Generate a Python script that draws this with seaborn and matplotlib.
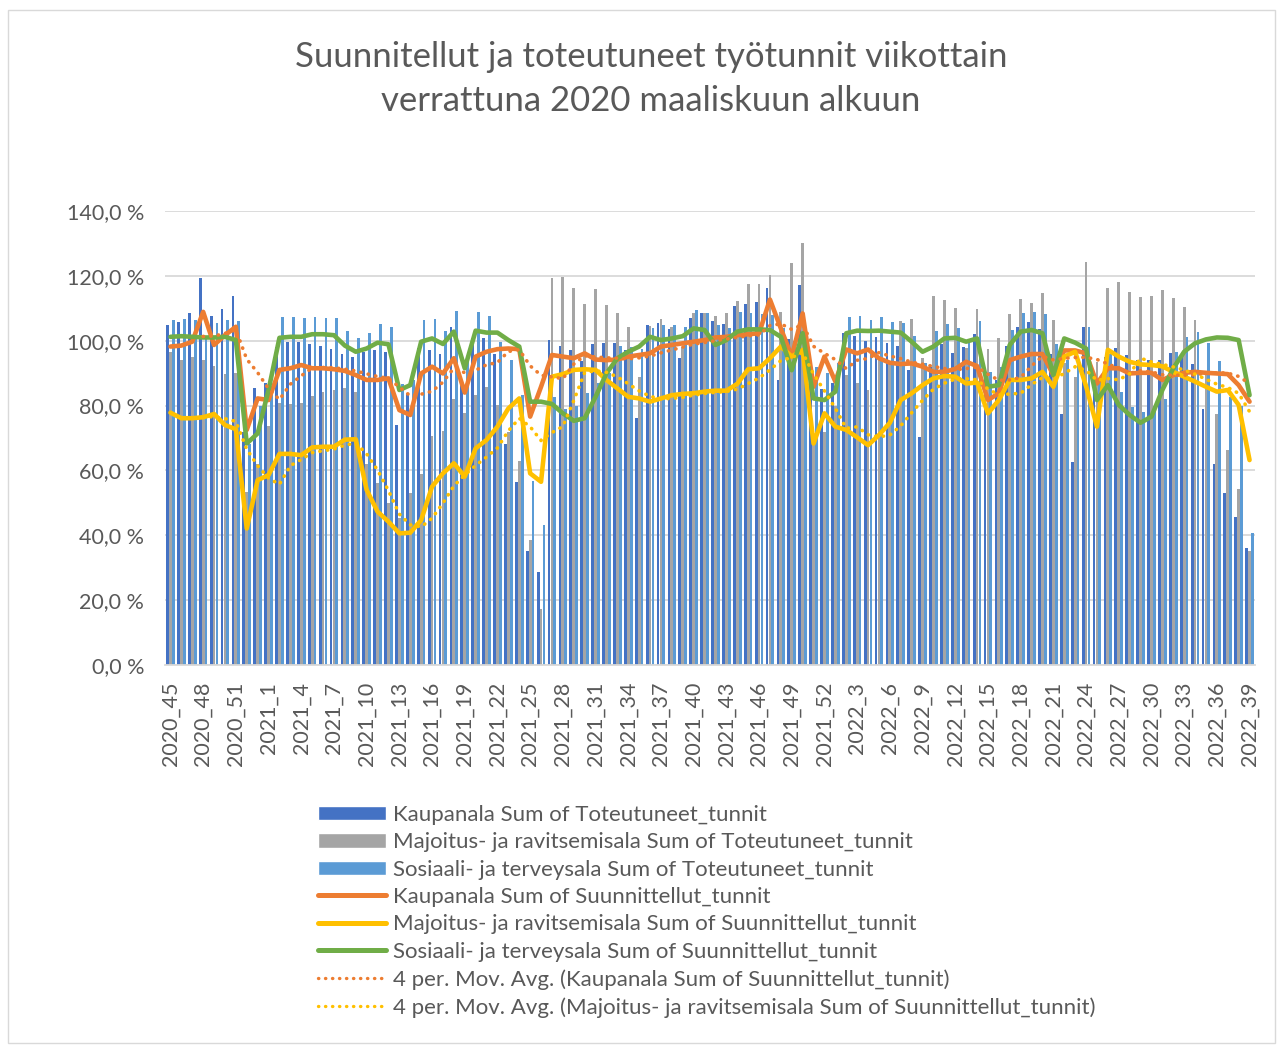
import numpy as np
import pandas as pd
import matplotlib
matplotlib.use("Agg")
import matplotlib.pyplot as plt
import seaborn as sns
from matplotlib.patches import Patch, Rectangle
from matplotlib.lines import Line2D
from matplotlib.ticker import FuncFormatter

# ---------------- data ----------------
weeks = ([f"2020_{w}" for w in range(45, 54)] +
         [f"2021_{w}" for w in range(1, 53)] +
         [f"2022_{w}" for w in range(1, 40)])

kaup_tot = [105.0, 105.8, 108.4, 119.2, 107.5, 109.9, 113.8, 72.0, 85.3, 86.9,
            98.0, 99.7, 99.5, 98.9, 98.5, 97.4, 95.9, 94.9, 96.6, 97.0,
            96.6, 74.0, 83.8, 97.9, 97.0, 96.0, 104.3, 87.0, 100.7, 100.7,
            96.0, 68.1, 56.5, 35.3, 28.8, 100.2, 98.5, 97.0, 93.7, 98.9,
            99.4, 99.2, 97.0, 76.1, 105.0, 105.5, 103.6, 94.6, 107.1, 108.7,
            106.2, 105.1, 110.8, 111.3, 111.8, 116.4, 87.9, 100.5, 117.2, 88.0,
            85.0, 87.0, 102.5, 101.4, 100.0, 101.2, 99.4, 98.5, 91.0, 70.4,
            92.0, 99.0, 96.1, 98.0, 102.0, 88.0, 87.9, 98.5, 104.1, 105.7,
            103.6, 96.0, 77.4, 62.5, 104.3, 86.9, 95.0, 97.6, 95.5, 94.0,
            94.2, 94.0, 96.3, 95.0, 92.8, 79.0, 62.1, 53.0, 45.7, 36.2]

majo_tot = [96.6, 94.2, 94.9, 94.0, 92.3, 89.8, 90.0, 53.4, 62.0, 73.7,
            80.9, 80.5, 80.9, 83.0, 84.3, 84.8, 85.5, 84.3, 62.0, 56.0,
            50.0, 45.4, 53.1, 59.0, 70.6, 72.3, 81.9, 77.8, 83.4, 85.8,
            80.3, 72.0, 62.9, 38.5, 17.2, 119.4, 119.8, 116.3, 111.3, 116.1,
            111.0, 108.7, 104.3, 88.9, 104.5, 106.7, 104.3, 98.2, 108.4, 108.4,
            107.7, 108.4, 112.2, 117.5, 117.5, 120.4, 109.0, 124.0, 130.2, 70.0,
            72.0, 80.0, 89.4, 87.0, 84.8, 95.0, 93.0, 106.2, 106.6, 94.8,
            113.8, 112.7, 110.0, 97.6, 109.8, 97.4, 100.9, 108.1, 112.8, 111.7,
            114.6, 106.4, 93.0, 88.7, 124.4, 93.5, 116.4, 118.2, 115.1, 113.6,
            113.8, 115.6, 113.1, 110.5, 106.4, 90.0, 77.3, 66.3, 54.2, 35.3]

sote_tot = [106.4, 106.6, 106.4, 101.0, 105.5, 106.4, 106.1, 68.0, 80.0, 86.0,
            107.2, 107.4, 107.0, 107.2, 107.1, 106.9, 103.1, 100.9, 102.5, 105.1,
            104.1, 86.8, 88.0, 106.4, 106.6, 102.9, 109.1, 95.0, 108.9, 107.6,
            99.7, 94.0, 83.4, 56.8, 43.2, 82.7, 78.8, 80.0, 84.0, 87.0,
            90.0, 98.4, 98.2, 97.3, 104.0, 104.8, 105.0, 104.1, 109.5, 108.4,
            105.0, 104.0, 108.9, 108.6, 108.2, 107.8, 104.0, 100.0, 100.0, 92.0,
            90.0, 93.0, 107.4, 107.6, 106.4, 107.2, 105.9, 105.5, 101.4, 93.0,
            103.1, 105.1, 103.8, 100.0, 106.1, 90.4, 92.0, 103.3, 108.4, 108.9,
            108.1, 99.0, 94.0, 94.0, 104.3, 88.0, 96.0, 84.2, 79.7, 78.1,
            80.0, 82.0, 96.4, 101.0, 102.6, 99.2, 93.7, 82.7, 80.0, 40.6]

kaup_plan = [98.2, 98.5, 99.7, 108.9, 98.7, 101.7, 104.3, 72.5, 82.2, 81.7,
             91.0, 91.5, 92.5, 91.5, 91.5, 91.2, 90.7, 89.4, 87.9, 87.9,
             88.4, 78.6, 77.1, 89.9, 92.0, 89.9, 94.6, 84.0, 95.1, 96.6,
             97.4, 97.6, 97.4, 76.6, 85.8, 95.6, 95.1, 94.6, 96.1, 94.2,
             94.0, 94.2, 95.1, 95.6, 96.1, 98.2, 98.7, 99.2, 99.7, 100.2,
             101.0, 101.2, 101.7, 102.0, 102.3, 112.7, 103.8, 95.1, 108.4, 85.8,
             95.1, 87.4, 97.3, 96.1, 97.3, 94.6, 93.2, 92.8, 93.0, 92.0,
             90.4, 90.4, 91.3, 93.5, 92.2, 81.7, 83.8, 94.0, 95.1, 95.9,
             95.9, 89.4, 97.0, 97.0, 96.1, 86.8, 91.5, 91.5, 89.9, 90.1,
             90.1, 87.9, 89.4, 90.1, 90.4, 90.1, 89.9, 89.7, 86.3, 81.2]

majo_plan = [77.8, 76.1, 76.1, 76.4, 77.4, 74.0, 72.7, 42.1, 57.0, 58.6,
             65.1, 65.1, 64.7, 67.1, 67.3, 67.3, 69.5, 69.6, 54.0, 47.3,
             44.2, 40.6, 40.8, 44.7, 55.0, 59.1, 62.2, 58.1, 66.8, 69.4,
             73.5, 79.1, 82.2, 59.1, 56.5, 88.9, 89.7, 91.0, 91.2, 91.0,
             87.9, 85.3, 82.7, 82.2, 81.2, 82.2, 83.2, 83.6, 83.8, 84.3,
             84.6, 84.6, 86.7, 91.2, 91.5, 94.6, 98.2, 95.1, 97.2, 68.3,
             77.6, 73.5, 72.5, 70.2, 67.8, 70.9, 74.7, 81.7, 83.8, 86.3,
             88.4, 89.1, 88.9, 86.8, 87.1, 77.6, 81.7, 87.9, 87.9, 88.4,
             90.4, 85.8, 95.1, 96.6, 86.0, 73.5, 97.2, 95.1, 93.5, 92.7,
             92.5, 92.1, 90.4, 88.9, 87.4, 85.8, 84.3, 84.8, 80.2, 63.2]

sote_plan = [101.2, 101.4, 101.2, 101.0, 101.0, 101.2, 100.2, 68.3, 71.4, 84.8,
             100.9, 101.2, 101.2, 102.0, 102.0, 101.7, 98.5, 96.6, 97.6, 99.4,
             98.9, 84.8, 86.3, 99.7, 100.7, 99.0, 102.8, 91.5, 103.1, 102.5,
             102.5, 100.2, 98.2, 81.2, 81.2, 80.5, 77.6, 75.3, 76.1, 82.7,
             89.9, 94.6, 96.6, 98.2, 101.2, 100.2, 100.7, 101.4, 103.8, 103.3,
             98.7, 100.2, 102.8, 103.5, 103.5, 103.3, 101.2, 90.9, 102.3, 82.2,
             81.7, 84.3, 102.3, 103.1, 103.0, 103.1, 102.8, 102.5, 99.7, 96.6,
             98.2, 100.7, 100.9, 99.7, 100.7, 85.8, 86.3, 98.7, 102.8, 103.3,
             102.3, 89.4, 100.7, 99.4, 97.6, 81.7, 86.3, 80.2, 77.1, 74.7,
             76.6, 84.8, 91.5, 96.6, 99.2, 100.4, 101.0, 100.9, 100.2, 83.2]

bar_labels = ["Kaupanala Sum of Toteutuneet_tunnit",
              "Majoitus- ja ravitsemisala Sum of Toteutuneet_tunnit",
              "Sosiaali- ja terveysala Sum of Toteutuneet_tunnit"]
line_labels = ["Kaupanala Sum of Suunnittellut_tunnit",
               "Majoitus- ja ravitsemisala Sum of Suunnittellut_tunnit",
               "Sosiaali- ja terveysala Sum of Suunnittellut_tunnit"]
ma_labels = ["4 per. Mov. Avg. (Kaupanala Sum of Suunnittellut_tunnit)",
             "4 per. Mov. Avg. (Majoitus- ja ravitsemisala Sum of Suunnittellut_tunnit)"]

title = "Suunnitellut ja toteutuneet työtunnit viikottain\nverrattuna 2020 maaliskuun alkuun"

# ---------------- styling ----------------
C_DARK, C_GREY, C_LIGHT = "#4472C4", "#A5A5A5", "#5B9BD5"
C_OR, C_YEL, C_GRN = "#ED7D31", "#FFC000", "#70AD47"
TXT = "#595959"
DOTS = (0, (0.1, 2.0))

sns.set_theme(style="white")
plt.rcParams["font.family"] = ["Lato", "DejaVu Sans"]

W, H = 1281, 1047
fig = plt.figure(figsize=(W / 100, H / 100), dpi=100)
ax = fig.add_axes([165 / W, 1 - 665 / H, (1255 - 165) / W, (665 - 211) / H])

n = len(weeks)
pos = np.arange(n)
df = pd.DataFrame({
    "pos": np.concatenate([pos, pos, pos]),
    "series": np.repeat(bar_labels, n),
    "value": np.concatenate([kaup_tot, majo_tot, sote_tot]),
})
sns.barplot(data=df, x="pos", y="value", hue="series", hue_order=bar_labels,
            palette=[C_DARK, C_GREY, C_LIGHT], width=0.8, gap=0.02,
            saturation=1, legend=False, ax=ax, zorder=2, linewidth=0)

for vals, col in [(kaup_plan, C_OR), (majo_plan, C_YEL), (sote_plan, C_GRN)]:
    sns.lineplot(x=pos, y=vals, color=col, lw=3.3, ax=ax, zorder=4,
                 solid_capstyle="round", solid_joinstyle="round")

for vals, col in [(kaup_plan, C_OR), (majo_plan, C_YEL)]:
    ma = pd.Series(vals).rolling(4).mean()
    sns.lineplot(x=pos, y=ma, color=col, lw=2.6, ax=ax, zorder=5,
                 linestyle=DOTS, dash_capstyle="round")

ax.set_xlim(-0.5, n - 0.5)
ax.set_ylim(0, 140)
ax.set_yticks(np.arange(0, 141, 20))
ax.yaxis.set_major_formatter(FuncFormatter(lambda v, p: f"{v:.1f}".replace(".", ",") + " %"))
ax.set_xticks(pos[::3])
ax.set_xticklabels(weeks[::3], rotation=90)
ax.set_xlabel("")
ax.set_ylabel("")
ax.yaxis.grid(True, color="#D9D9D9", lw=1.3, zorder=0)
ax.xaxis.grid(False)
ax.set_axisbelow(True)
for s in ["top", "right", "left"]:
    ax.spines[s].set_visible(False)
ax.spines["bottom"].set_color("#D9D9D9")
ax.spines["bottom"].set_linewidth(1.3)
ax.tick_params(axis="y", length=0, pad=15, labelsize=15.5, labelcolor=TXT)
ax.tick_params(axis="x", length=0, pad=12, labelsize=15.5, labelcolor=TXT)

fig.text(651 / W, 1 - 79 / H, title, ha="center", va="center", fontsize=25,
         color=TXT, linespacing=1.45)

handles = [Patch(facecolor=C_DARK), Patch(facecolor=C_GREY), Patch(facecolor=C_LIGHT),
           Line2D([], [], color=C_OR, lw=3.6, solid_capstyle="round"),
           Line2D([], [], color=C_YEL, lw=3.6, solid_capstyle="round"),
           Line2D([], [], color=C_GRN, lw=3.6, solid_capstyle="round"),
           Line2D([], [], color=C_OR, lw=2.4, linestyle=DOTS, dash_capstyle="round"),
           Line2D([], [], color=C_YEL, lw=2.4, linestyle=DOTS, dash_capstyle="round")]
labels = bar_labels + line_labels + ma_labels
leg = fig.legend(handles, labels, loc="upper left", bbox_to_anchor=(318 / W, 1 - 805 / H),
                 frameon=False, fontsize=16, handlelength=3.06, handleheight=0.63,
                 handletextpad=0.3, labelspacing=0.33, borderpad=0, borderaxespad=0)
for t in leg.get_texts():
    t.set_color(TXT)

fig.patches.append(Rectangle((8 / W, 1 - 1043 / H), (1275 - 8) / W, (1043 - 10) / H,
                             transform=fig.transFigure, fill=False, edgecolor="#D9D9D9",
                             lw=1.0))

fig.savefig("out.png", dpi=100, facecolor="white")
